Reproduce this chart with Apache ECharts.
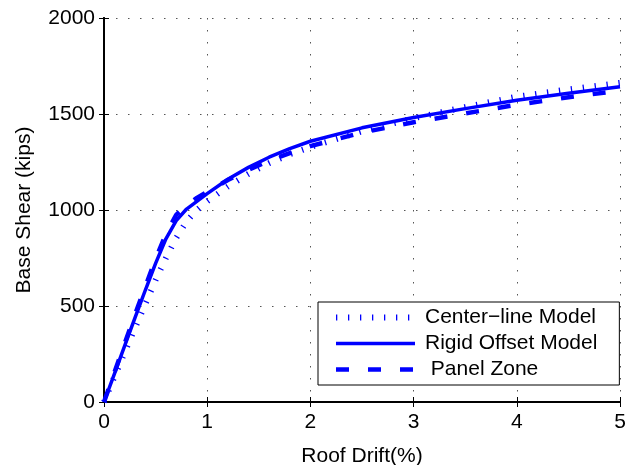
<!DOCTYPE html>
<html>
<head>
<meta charset="utf-8">
<script src="https://cdn.jsdelivr.net/npm/echarts@6/dist/echarts.min.js"></script>
<style>
  html, body { margin: 0; padding: 0; background: #fff; }
  #chart { width: 626px; height: 465px; }
</style>
</head>
<body>
<div id="chart"></div>
<script>
// roof drift (%)
var drift = [0, 0.1, 0.2, 0.3, 0.4, 0.5, 0.6, 0.7, 0.8, 0.9, 1.0, 1.2, 1.4, 1.6, 1.8, 2.0, 2.5, 3.0, 3.5, 4.0, 4.5, 5.0]
// base shear (kips)
var centerLine = [0, 130, 258, 385, 510, 635, 750, 855, 940, 1000, 1045, 1122, 1188, 1244, 1290, 1328, 1410, 1478, 1536, 1590, 1628, 1662]
var rigidOffset = [0, 145, 292, 438, 582, 722, 850, 945, 1005, 1045, 1085, 1160, 1222, 1275, 1320, 1358, 1428, 1482, 1528, 1572, 1608, 1642]
var panelZone = [0, 152, 305, 455, 600, 745, 875, 975, 1025, 1063, 1095, 1156, 1210, 1256, 1296, 1333, 1403, 1457, 1503, 1548, 1587, 1622]

var xTicks = [0, 1, 2, 3, 4, 5]
var yTicks = [0, 500, 1000, 1500, 2000]

function pairs(ys) {
  return drift.map(function(x, i) { return [x, ys[i]] })
}

var font = 'Liberation Sans, Arial, Helvetica, sans-serif'
var blue = '#0000ff'

var chart = echarts.init(document.getElementById('chart'))

var gridLine = { show: true, lineStyle: { color: '#555', width: 1, type: [1.5, 10.5] } }
var frame = { show: true, lineStyle: { color: '#000', width: 2 } }
var tick = { show: true, inside: true, length: 5, lineStyle: { color: '#000', width: 1 } }

// matlab-like "dotted" line: short ticks across the curve
var dotStyle = { color: blue, width: 6, type: [1.3, 10.7], cap: 'butt' }
var solidStyle = { color: blue, width: 3.5 }
var dashStyle = { color: blue, width: 4.5, type: [13, 19], cap: 'butt' }

var option = {
  animation: false,
  backgroundColor: '#fff',
  // v6 would shrink the grid to keep axis names inside, keep it fixed
  grid: { left: 104, right: 6, top: 18, bottom: 63, outerBoundsMode: 'none', containLabel: false },
  legend: {
    orient: 'vertical',
    left: 318,
    top: 302,
    padding: [5, 22, 5, 15],
    itemGap: 5,
    itemWidth: 79,
    itemHeight: 14,
    backgroundColor: '#fff',
    borderColor: '#000',
    borderWidth: 1,
    borderRadius: 0,
    itemStyle: { opacity: 0 },
    textStyle: { fontFamily: font, fontSize: 21, color: '#000', padding: [0, 0, 0, 5] },
    data: [
      { name: 'Center\u2212line Model', lineStyle: dotStyle },
      { name: 'Rigid Offset Model', lineStyle: solidStyle },
      { name: ' Panel Zone', lineStyle: dashStyle }
    ]
  },
  xAxis: [
    {
      type: 'value',
      min: xTicks[0],
      max: xTicks[xTicks.length - 1],
      interval: 1,
      name: 'Roof Drift(%)',
      nameLocation: 'middle',
      nameGap: 44,
      nameTextStyle: { fontFamily: font, fontSize: 21, color: '#000' },
      axisLine: frame,
      axisTick: tick,
      axisLabel: { fontFamily: font, fontSize: 21, color: '#000', margin: 10 },
      splitLine: gridLine
    },
    {
      type: 'value',
      position: 'top',
      min: xTicks[0],
      max: xTicks[xTicks.length - 1],
      interval: 1,
      axisLine: frame,
      axisTick: tick,
      axisLabel: { show: false },
      splitLine: { show: false }
    }
  ],
  yAxis: [
    {
      type: 'value',
      min: yTicks[0],
      max: yTicks[yTicks.length - 1],
      interval: 500,
      name: 'Base Shear (kips)',
      nameLocation: 'middle',
      nameGap: 69,
      nameTextStyle: { fontFamily: font, fontSize: 21, color: '#000' },
      axisLine: frame,
      axisTick: tick,
      axisLabel: { fontFamily: font, fontSize: 21, color: '#000', margin: 9, formatter: function(v) { return String(v) } },
      splitLine: gridLine
    },
    {
      type: 'value',
      position: 'right',
      min: yTicks[0],
      max: yTicks[yTicks.length - 1],
      interval: 500,
      axisLine: frame,
      axisTick: tick,
      axisLabel: { show: false },
      splitLine: { show: false }
    }
  ],
  series: [
    {
      name: 'Center\u2212line Model',
      type: 'line',
      symbol: 'none',
      data: pairs(centerLine),
      lineStyle: dotStyle,
      itemStyle: { color: blue }
    },
    {
      name: 'Rigid Offset Model',
      type: 'line',
      symbol: 'none',
      data: pairs(rigidOffset),
      lineStyle: solidStyle,
      itemStyle: { color: blue }
    },
    {
      name: ' Panel Zone',
      type: 'line',
      symbol: 'none',
      data: pairs(panelZone),
      lineStyle: dashStyle,
      itemStyle: { color: blue }
    }
  ]
}

chart.setOption(option)
</script>
</body>
</html>
